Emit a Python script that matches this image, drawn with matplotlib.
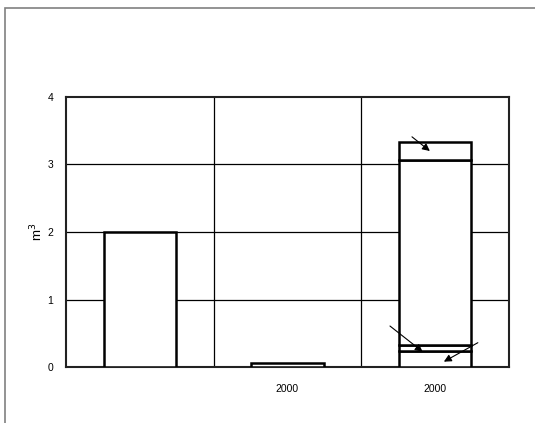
import matplotlib
matplotlib.use("Agg")
import matplotlib.pyplot as plt
from matplotlib.patches import Rectangle

plt.rcParams['font.family'] = ['Liberation Sans', 'DejaVu Sans']

# Data
categories = ["", "2000", "2000"]
single_values = [2.0, 0.055]          # first two columns
stack_segments = [0.23, 0.09, 2.75, 0.26]  # third column, bottom to top
y_ticks = [0, 1, 2, 3, 4]

# Arrow annotations (start -> tip) on the stacked column
arrows = [
    ((1.843, 3.41), (1.964, 3.20)),
    ((1.694, 0.607), (1.915, 0.227)),
    ((2.289, 0.36), (2.059, 0.079)),
]

fig = plt.figure(figsize=(5.35, 4.23), dpi=100)
ax = fig.add_axes([66/535, 1 - 367/423, 443/535, 270/423])

bar_w = 0.49
edge_kw = dict(facecolor="white", edgecolor="black", linewidth=1.8, zorder=3)
ax.bar([0, 1], single_values, width=bar_w, **edge_kw)
bottom = 0.0
for seg in stack_segments:
    ax.bar(2, seg, bottom=bottom, width=bar_w, **edge_kw)
    bottom += seg

for (x0, y0), (x1, y1) in arrows:
    ax.annotate("", xy=(x1, y1), xytext=(x0, y0),
                arrowprops=dict(arrowstyle="-|>", color="black", lw=0.8,
                                mutation_scale=11, shrinkA=0, shrinkB=0),
                zorder=5)

ax.set_xlim(-0.5, 2.5)
ax.set_ylim(0, 4)
ax.set_yticks(y_ticks)
ax.set_xticks([0, 1, 2])
ax.set_xticklabels(categories)
ax.tick_params(axis="x", direction="in", length=3, width=0.8, pad=12, labelsize=7.5)
ax.tick_params(axis="y", length=0, pad=9, labelsize=7.5)

# grid: horizontal at each unit, vertical at category boundaries
for y in y_ticks[1:-1]:
    ax.axhline(y, color="black", lw=0.9, zorder=1)
for x in [0.5, 1.5]:
    ax.axvline(x, color="black", lw=0.9, zorder=1)

for s in ax.spines.values():
    s.set_linewidth(1.5)
    s.set_color("#222222")

ax.set_ylabel("m$^3$", fontsize=9.5, labelpad=2)

# outer frame
fig.patches.append(Rectangle((5/535, -0.1), 1.2, 1 - 8/423 + 0.1,
                             transform=fig.transFigure, fill=False,
                             edgecolor="#808080", lw=1.2))

fig.savefig("out.png", dpi=100, facecolor="white")
